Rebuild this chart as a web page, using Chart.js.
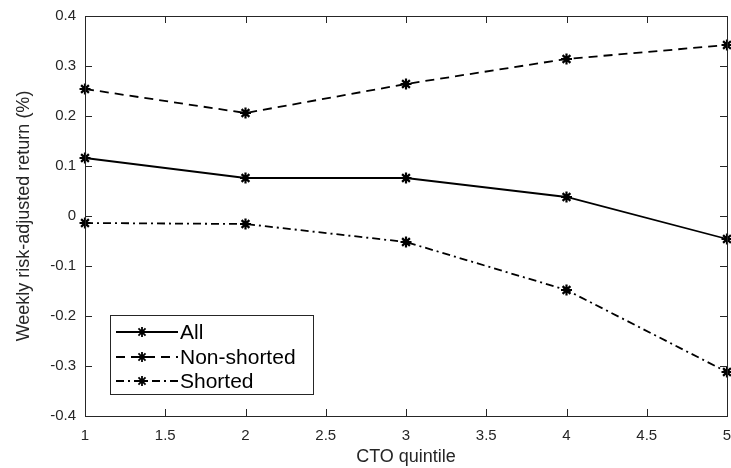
<!DOCTYPE html>
<html>
<head>
<meta charset="utf-8">
<script src="https://cdn.jsdelivr.net/npm/chart.js@4.4.0/dist/chart.umd.min.js"></script>
<title>CTO quintile chart</title>
<style>
  html, body { margin: 0; padding: 0; background: #fff; }
  #c { display: block; }
</style>
</head>
<body>
<canvas id="c" width="731" height="468"></canvas>
<script>
// data
const quintiles = [1, 2, 3, 4, 5];
const allRet = [0.116, 0.076, 0.076, 0.038, -0.046];
const nonShorted = [0.254, 0.206, 0.264, 0.314, 0.342];
const shorted = [-0.014, -0.016, -0.052, -0.148, -0.312];
const seriesNames = ['All', 'Non-shorted', 'Shorted'];
const xTicks = [1, 1.5, 2, 2.5, 3, 3.5, 4, 4.5, 5];
const yTicks = [-0.4, -0.3, -0.2, -0.1, 0, 0.1, 0.2, 0.3, 0.4];

const ink = '#262626';
const font = 'Liberation Sans, Arial, Helvetica, sans-serif';

function pts(ys) {
  return quintiles.map((x, i) => ({ x: x, y: ys[i] }));
}

function ds(label, ys, dash) {
  return {
    label: label,
    data: pts(ys),
    borderColor: '#000',
    backgroundColor: '#000',
    borderWidth: 1.8,
    borderDash: dash,
    pointStyle: 'star',
    pointRadius: 5.5,
    pointBorderWidth: 2.2,
    pointBorderColor: '#000',
    clip: false,
    tension: 0
  };
}

// inward ticks + box, matlab style
const boxPlugin = {
  id: 'box',
  afterDraw(chart) {
    const ctx = chart.ctx;
    const a = chart.chartArea;
    const sx = chart.scales.x, sy = chart.scales.y;
    ctx.save();
    ctx.strokeStyle = ink;
    ctx.lineWidth = 1;
    ctx.strokeRect(Math.round(a.left) + 0.5, Math.round(a.top) + 0.5,
      Math.round(a.right - a.left), Math.round(a.bottom - a.top));
    const len = 7;
    ctx.beginPath();
    xTicks.forEach(v => {
      const px = Math.round(sx.getPixelForValue(v)) + 0.5;
      ctx.moveTo(px, a.bottom); ctx.lineTo(px, a.bottom - len);
      ctx.moveTo(px, a.top); ctx.lineTo(px, a.top + len);
    });
    yTicks.forEach(v => {
      const py = Math.round(sy.getPixelForValue(v)) + 0.5;
      ctx.moveTo(a.left, py); ctx.lineTo(a.left + len, py);
      ctx.moveTo(a.right, py); ctx.lineTo(a.right - len, py);
    });
    ctx.stroke();
    ctx.restore();
  }
};

// legend box inside the axes, lower left
const legendPlugin = {
  id: 'boxLegend',
  afterDraw(chart) {
    const ctx = chart.ctx;
    const x0 = 110, y0 = 315, w = 203, h = 79;
    ctx.save();
    ctx.fillStyle = '#fff';
    ctx.fillRect(x0, y0, w, h);
    ctx.strokeStyle = ink;
    ctx.lineWidth = 1;
    ctx.strokeRect(x0 + 0.5, y0 + 0.5, w, h);
    const rows = [332, 357, 381];
    chart.data.datasets.forEach((d, i) => {
      const y = rows[i];
      ctx.strokeStyle = '#000';
      ctx.lineWidth = d.borderWidth;
      ctx.setLineDash(d.borderDash || []);
      ctx.beginPath();
      ctx.moveTo(116, y); ctx.lineTo(178, y);
      ctx.stroke();
      ctx.setLineDash([]);
      Chart.helpers.drawPoint(ctx, { pointStyle: 'star', radius: 5, borderWidth: 2 }, 142, y);
      ctx.fillStyle = '#000';
      ctx.font = '21px ' + font;
      ctx.textBaseline = 'middle';
      ctx.textAlign = 'left';
      ctx.fillText(d.label, 180, y + 1);
    });
    ctx.restore();
  }
};

new Chart(document.getElementById('c'), {
  type: 'line',
  data: {
    datasets: [
      ds(seriesNames[0], allRet, []),
      ds(seriesNames[1], nonShorted, [9, 6]),
      ds(seriesNames[2], shorted, [8, 4, 2, 4])
    ]
  },
  options: {
    responsive: false,
    animation: false,
    layout: { autoPadding: false, padding: { top: 16, right: 4, left: 0, bottom: 0 } },
    plugins: { legend: { display: false }, tooltip: { enabled: false } },
    scales: {
      x: {
        type: 'linear',
        min: 1, max: 5,
        afterBuildTicks: s => { s.ticks = xTicks.map(v => ({ value: v })); },
        afterFit: s => { s.height = 52; s.paddingLeft = 0; s.paddingRight = 0; },
        grid: { display: false, drawTicks: false },
        border: { display: false },
        ticks: { color: ink, padding: 11, maxRotation: 0, callback: v => String(v), font: { size: 15, family: font } },
        title: { display: true, text: 'CTO quintile', color: ink, padding: { top: 2, bottom: 0 }, font: { size: 18, family: font } }
      },
      y: {
        min: -0.4, max: 0.4,
        afterBuildTicks: s => { s.ticks = yTicks.map(v => ({ value: v })); },
        afterFit: s => { s.width = 85; s.paddingTop = 0; s.paddingBottom = 0; },
        grid: { display: false, drawTicks: false },
        border: { display: false },
        ticks: { color: ink, padding: 9, callback: v => String(Number(v.toFixed(1))), font: { size: 15, family: font } },
        title: { display: true, text: 'Weekly risk-adjusted return (%)', color: ink, padding: { top: 13, bottom: 4 }, font: { size: 18, family: font } }
      }
    }
  },
  plugins: [boxPlugin, legendPlugin]
});
</script>
</body>
</html>
